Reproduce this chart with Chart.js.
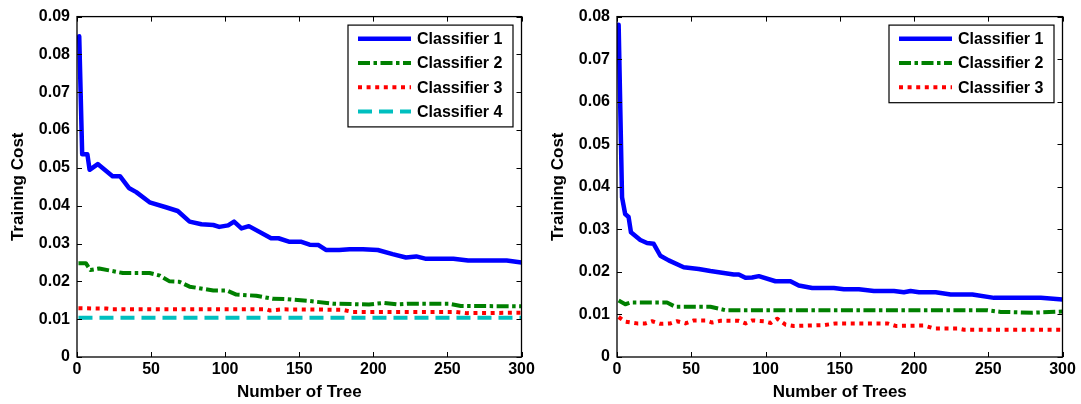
<!DOCTYPE html>
<html>
<head>
<meta charset="utf-8">
<script src="https://cdn.jsdelivr.net/npm/chart.js@4.4.1/dist/chart.umd.min.js"></script>
<style>
  html, body { margin: 0; padding: 0; background: #fff; }
  #wrapL { position: absolute; left: 0; top: 0; width: 540px; height: 404px; }
  #wrapR { position: absolute; left: 540px; top: 0; width: 541px; height: 404px; }
</style>
</head>
<body>
<div id="wrapL"><canvas id="cL" width="540" height="404"></canvas></div>
<div id="wrapR"><canvas id="cR" width="541" height="404"></canvas></div>
<script>
// ---------------- DATA ----------------
const xTickValues = [0, 50, 100, 150, 200, 250, 300];
const xTickLabels = ['0', '50', '100', '150', '200', '250', '300'];
const yTickLabelsLeft = ['0', '0.01', '0.02', '0.03', '0.04', '0.05', '0.06', '0.07', '0.08', '0.09'];
const yTickLabelsRight = ['0', '0.01', '0.02', '0.03', '0.04', '0.05', '0.06', '0.07', '0.08'];
const seriesNames = ['Classifier 1', 'Classifier 2', 'Classifier 3', 'Classifier 4'];

// Left panel
const c1L_x = [1.5, 3.5, 7, 8.5, 14, 24, 29, 35, 40, 49, 60, 68, 76, 84, 92, 96, 102, 106, 111, 116, 131, 136, 143, 151, 157, 163, 168, 177, 184, 193, 203, 213, 222, 229, 235, 254, 264, 290, 300];
const c1L_y = [0.0848, 0.0536, 0.0536, 0.0495, 0.0510, 0.0478, 0.0478, 0.0447, 0.0436, 0.0409, 0.0396, 0.0386, 0.0358, 0.0351, 0.0349, 0.0344, 0.0348, 0.0358, 0.0340, 0.0346, 0.0314, 0.0314, 0.0305, 0.0305, 0.0297, 0.0296, 0.0283, 0.0283, 0.0285, 0.0285, 0.0283, 0.0272, 0.0263, 0.0266, 0.0260, 0.0260, 0.0255, 0.0255, 0.0250];
const c2L_x = [1, 6, 9, 15, 31, 49, 56, 62.5, 69, 76, 92, 101, 107.5, 121, 132, 141, 157, 173, 197, 207, 216, 224, 251, 259, 300];
const c2L_y = [0.0248, 0.0248, 0.0230, 0.0234, 0.0222, 0.0222, 0.0215, 0.0200, 0.0199, 0.0186, 0.0176, 0.0176, 0.0165, 0.0162, 0.0154, 0.0153, 0.0148, 0.0141, 0.0139, 0.0143, 0.0139, 0.0141, 0.0141, 0.0135, 0.0134];
const c3L_x = [1, 20, 24, 128, 130, 139, 179, 186, 256, 263, 300];
const c3L_y = [0.0129, 0.0128, 0.0126, 0.0126, 0.0123, 0.0126, 0.0125, 0.0119, 0.0119, 0.0116, 0.0117];
const c4L_x = [1, 100, 200, 300];
const c4L_y = [0.0104, 0.0104, 0.0104, 0.0104];

// Right panel
const c1R_x = [1.1, 3.4, 5.5, 7.8, 9.4, 15.7, 20.2, 24.7, 29.2, 34.8, 44.9, 55, 62.9, 78.6, 82, 86.5, 91, 95.5, 106.7, 116.8, 122.4, 131.5, 146, 152.8, 162.9, 173, 186.5, 193.2, 197.7, 203.4, 214.6, 224.7, 239.3, 253.9, 285.4, 300];
const c1R_y = [0.0781, 0.0375, 0.0336, 0.0329, 0.0293, 0.0275, 0.0268, 0.0266, 0.0238, 0.0227, 0.0211, 0.0207, 0.0202, 0.0194, 0.0194, 0.0186, 0.0187, 0.0190, 0.0178, 0.0178, 0.0168, 0.0162, 0.0162, 0.0159, 0.0159, 0.0155, 0.0155, 0.0152, 0.0155, 0.0152, 0.0152, 0.0147, 0.0147, 0.0139, 0.0139, 0.0135];
const c2R_x = [1.1, 5.6, 9, 33.7, 39.3, 62.9, 73, 249.4, 258.4, 270.7, 279.7, 300];
const c2R_y = [0.0133, 0.0124, 0.0128, 0.0128, 0.0118, 0.0118, 0.0110, 0.0110, 0.0106, 0.0105, 0.0104, 0.0107];
const c3R_x = [1.1, 5.6, 13.5, 19.2, 23.6, 29.2, 36, 40.4, 46.1, 51.7, 59.6, 64.1, 69.7, 82.1, 86.6, 91.1, 99, 103.5, 107.9, 113.5, 119.1, 139.4, 147.2, 182, 187.7, 206.8, 213.5, 229.3, 233.8, 300];
const c3R_y = [0.0094, 0.0083, 0.0079, 0.0079, 0.0084, 0.0078, 0.0079, 0.0084, 0.0079, 0.0086, 0.0086, 0.0081, 0.0085, 0.0085, 0.0079, 0.0086, 0.0084, 0.0080, 0.0090, 0.0076, 0.0073, 0.0075, 0.0079, 0.0079, 0.0073, 0.0074, 0.0067, 0.0067, 0.0064, 0.0064];

// ---------------- STYLE ----------------
const FONT = '"Liberation Sans", Arial, sans-serif';
const styles = [
  { color: '#0000ff', width: 4.5, dash: [] },
  { color: '#008000', width: 4, dash: [12, 3.5, 3.5, 3.5] },
  { color: '#ff0000', width: 4, dash: [4, 4.6] },
  { color: '#00bfbf', width: 4, dash: [14, 7] }
];

function pts(xs, ys) { return xs.map((x, i) => ({ x: x, y: ys[i] })); }

function makeDataset(i, xs, ys) {
  const s = styles[i];
  return {
    label: seriesNames[i],
    data: pts(xs, ys),
    borderColor: s.color,
    backgroundColor: s.color,
    borderWidth: s.width,
    borderDash: s.dash,
    borderCapStyle: s.dash.length ? 'butt' : 'round',
    borderJoinStyle: 'round',
    pointRadius: 0,
    tension: 0,
    fill: false
  };
}

// box + inward ticks (MATLAB style)
const boxPlugin = {
  id: 'boxPlugin',
  afterDatasetsDraw(chart) {
    const { ctx, chartArea: a, scales } = chart;
    const L = 5;
    ctx.save();
    ctx.setLineDash([]);
    ctx.strokeStyle = '#000';
    ctx.lineWidth = 1.3;
    ctx.strokeRect(a.left, a.top, a.right - a.left, a.bottom - a.top);
    ctx.lineWidth = 1;
    ctx.beginPath();
    scales.x.ticks.forEach(t => {
      const px = Math.round(scales.x.getPixelForValue(t.value)) + 0.5;
      ctx.moveTo(px, a.bottom); ctx.lineTo(px, a.bottom - L);
      ctx.moveTo(px, a.top); ctx.lineTo(px, a.top + L);
    });
    scales.y.ticks.forEach(t => {
      const py = Math.round(scales.y.getPixelForValue(t.value)) + 0.5;
      ctx.moveTo(a.left, py); ctx.lineTo(a.left + L, py);
      ctx.moveTo(a.right, py); ctx.lineTo(a.right - L, py);
    });
    ctx.stroke();
    ctx.restore();
  }
};

// legend box in upper right
const legendPlugin = {
  id: 'legendPlugin',
  afterDraw(chart) {
    const { ctx, chartArea: a } = chart;
    const n = chart.data.datasets.length;
    const w = 165, firstRow = 13.7, rowH = 24.2;
    const h = firstRow + (n - 1) * rowH + 15.5;
    const bx = a.right - 8.5 - w, by = a.top + 8.5;
    ctx.save();
    ctx.fillStyle = '#fff';
    ctx.fillRect(bx, by, w, h);
    ctx.setLineDash([]);
    ctx.strokeStyle = '#000';
    ctx.lineWidth = 1.2;
    ctx.strokeRect(bx, by, w, h);
    chart.data.datasets.forEach((ds, i) => {
      const y = by + firstRow + i * rowH;
      ctx.beginPath();
      ctx.strokeStyle = ds.borderColor;
      ctx.lineWidth = ds.borderWidth;
      ctx.lineCap = 'butt';
      ctx.setLineDash(ds.borderDash || []);
      ctx.moveTo(bx + 10, y);
      ctx.lineTo(bx + 63, y);
      ctx.stroke();
      ctx.setLineDash([]);
      ctx.fillStyle = '#000';
      ctx.font = 'bold 16px ' + FONT;
      ctx.textBaseline = 'middle';
      ctx.textAlign = 'left';
      ctx.fillText(ds.label, bx + 69, y + 1);
    });
    ctx.restore();
  }
};

function makeChart(canvasId, datasets, yMax, yLabels, xTitle) {
  return new Chart(document.getElementById(canvasId), {
    type: 'line',
    data: { datasets: datasets },
    plugins: [boxPlugin, legendPlugin],
    options: {
      responsive: false,
      animation: false,
      layout: { padding: { left: 0, right: 18.5, top: 14.5, bottom: 0 } },
      plugins: { legend: { display: false }, tooltip: { enabled: false } },
      scales: {
        x: {
          type: 'linear',
          min: 0, max: 300,
          afterFit(scale) { scale.height = 47; },
          afterBuildTicks(scale) { scale.ticks = xTickValues.map(v => ({ value: v })); },
          grid: { display: false, drawTicks: false },
          border: { display: false },
          ticks: {
            padding: 3,
            color: '#000',
            font: { family: FONT, size: 16, weight: 'bold' },
            maxRotation: 0,
            callback: (v) => { const i = xTickValues.indexOf(v); return i >= 0 ? xTickLabels[i] : ''; }
          },
          title: {
            display: true, text: xTitle, color: '#000',
            font: { family: FONT, size: 17, weight: 'bold' },
            padding: { top: 0, bottom: 1 }
          }
        },
        y: {
          type: 'linear',
          min: 0, max: yMax,
          afterFit(scale) { scale.width = 77; },
          afterBuildTicks(scale) { scale.ticks = yLabels.map((l, i) => ({ value: i * 0.01 })); },
          grid: { display: false, drawTicks: false },
          border: { display: false },
          ticks: {
            padding: 7,
            color: '#000',
            font: { family: FONT, size: 16, weight: 'bold' },
            callback: (v) => { const i = Math.round(v * 100); return yLabels[i]; }
          },
          title: {
            display: true, text: 'Training Cost', color: '#000',
            font: { family: FONT, size: 17, weight: 'bold' },
            padding: { top: 8, bottom: 0 }
          }
        }
      }
    }
  });
}

makeChart('cL', [
  makeDataset(0, c1L_x, c1L_y),
  makeDataset(1, c2L_x, c2L_y),
  makeDataset(2, c3L_x, c3L_y),
  makeDataset(3, c4L_x, c4L_y)
], 0.09, yTickLabelsLeft, 'Number of Tree');

makeChart('cR', [
  makeDataset(0, c1R_x, c1R_y),
  makeDataset(1, c2R_x, c2R_y),
  makeDataset(2, c3R_x, c3R_y)
], 0.08, yTickLabelsRight, 'Number of Trees');
</script>
</body>
</html>
